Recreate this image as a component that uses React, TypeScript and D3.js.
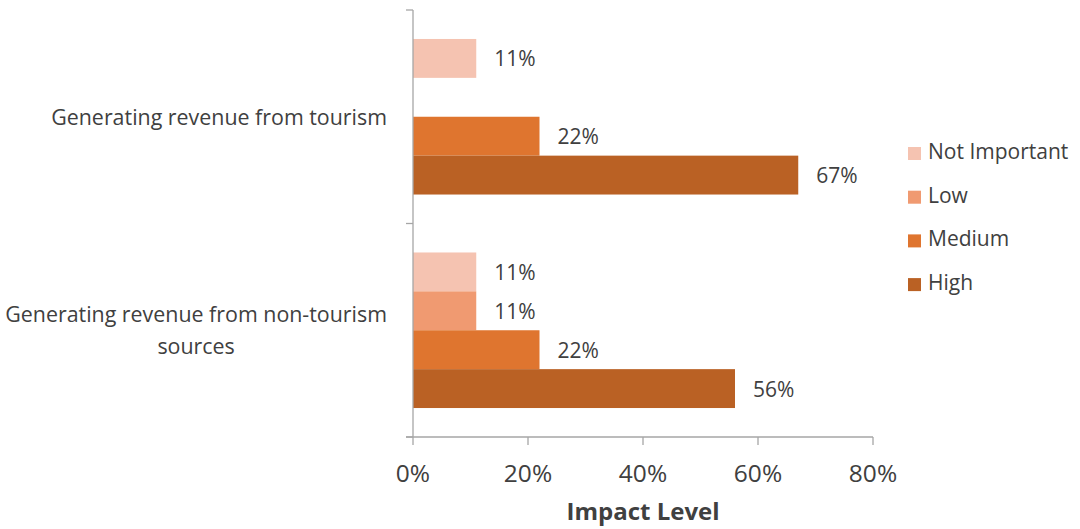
import React, { useEffect, useRef } from "react";
import * as d3 from "d3";

const categories = ["tourism", "nonTourism"];
const categoryLines = [
  ["Generating revenue from tourism"],
  ["Generating revenue from non-tourism", "sources"],
];
const seriesNames = ["Not Important", "Low", "Medium", "High"];
const notImportant = [11, 11];
const low: (number | null)[] = [null, 11];
const medium = [22, 22];
const high = [67, 56];
const xTicks = [0, 20, 40, 60, 80];
const colors = ["#F5C3B1", "#F09A71", "#DF752F", "#BA6124"];
const xTitle = "Impact Level";

const W = 1080;
const H = 529;
const FONT = "'Open Sans', 'Noto Sans', sans-serif";
const TEXT = "#404040";
const AXIS = "#A6A6A6";

export default function App() {
  const ref = useRef<SVGSVGElement>(null);
  useEffect(() => {
    const svg = d3.select(ref.current);
    svg.selectAll("*").remove();
    const values = [notImportant, low, medium, high];

    const x = d3.scaleLinear().domain([0, 80]).range([413, 873]);
    const y = d3.scaleBand<string>().domain(categories).range([10, 437]);
    const sub = d3
      .scaleBand<string>()
      .domain(seriesNames)
      .range([0, y.bandwidth()])
      .paddingInner(0)
      .paddingOuter(0.745);

    // bars
    categories.forEach((c, ci) => {
      seriesNames.forEach((s, si) => {
        const v = values[si][ci];
        if (v == null) return;
        const y0 = (y(c) as number) + (sub(s) as number);
        svg
          .append("rect")
          .attr("x", x(0))
          .attr("y", y0)
          .attr("width", x(v) - x(0))
          .attr("height", sub.bandwidth())
          .attr("fill", colors[si]);
        svg
          .append("text")
          .attr("x", x(v) + 18)
          .attr("y", y0 + sub.bandwidth() / 2 + 8)
          .attr("font-family", FONT)
          .attr("font-size", 21)
          .attr("fill", TEXT)
          .text(`${v}%`);
      });
    });

    // y axis
    svg
      .append("line")
      .attr("x1", x(0))
      .attr("x2", x(0))
      .attr("y1", 10)
      .attr("y2", 437)
      .attr("stroke", AXIS)
      .attr("stroke-width", 1.3);
    const yEdges = [10, ...categories.map((c) => (y(c) as number) + y.bandwidth())];
    yEdges.forEach((e) => {
      svg
        .append("line")
        .attr("x1", x(0) - 7)
        .attr("x2", x(0))
        .attr("y1", e)
        .attr("y2", e)
        .attr("stroke", AXIS)
        .attr("stroke-width", 1.3);
    });

    // x axis
    svg
      .append("line")
      .attr("x1", x(0) - 7)
      .attr("x2", x(80))
      .attr("y1", 437)
      .attr("y2", 437)
      .attr("stroke", AXIS)
      .attr("stroke-width", 1.3);
    xTicks.forEach((t) => {
      svg
        .append("line")
        .attr("x1", x(t))
        .attr("x2", x(t))
        .attr("y1", 437)
        .attr("y2", 445)
        .attr("stroke", AXIS)
        .attr("stroke-width", 1.3);
      svg
        .append("text")
        .attr("x", x(t))
        .attr("y", 482)
        .attr("text-anchor", "middle")
        .attr("font-family", FONT)
        .attr("font-size", 24.5)
        .attr("fill", TEXT)
        .text(`${t}%`);
    });

    svg
      .append("text")
      .attr("x", (x(0) + x(80)) / 2)
      .attr("y", 520)
      .attr("text-anchor", "middle")
      .attr("font-family", FONT)
      .attr("font-size", 24)
      .attr("font-weight", 700)
      .attr("fill", TEXT)
      .text(xTitle);

    // category labels
    const rightEdge = 387;
    const lineH = 32;
    categories.forEach((c, ci) => {
      const lines = categoryLines[ci];
      const g = svg.append("g");
      const texts = lines.map((l, li) =>
        g
          .append("text")
          .attr("y", (y(c) as number) + y.bandwidth() / 2 + 8 + (li - (lines.length - 1) / 2) * lineH)
          .attr("text-anchor", "middle")
          .attr("font-family", FONT)
          .attr("font-size", 21.4)
          .attr("fill", TEXT)
          .text(l)
      );
      const maxW = d3.max(texts, (t) => (t.node() as SVGTextElement).getComputedTextLength()) || 0;
      const cx = rightEdge - maxW / 2;
      texts.forEach((t) => t.attr("x", cx));
    });

    // legend
    seriesNames.forEach((s, si) => {
      const base = 159 + si * 43.7;
      svg
        .append("rect")
        .attr("x", 908)
        .attr("y", base - 12)
        .attr("width", 13)
        .attr("height", 13)
        .attr("fill", colors[si]);
      svg
        .append("text")
        .attr("x", 928)
        .attr("y", base)
        .attr("font-family", FONT)
        .attr("font-size", 21)
        .attr("fill", TEXT)
        .text(s);
    });
  }, []);
  return (
    <svg
      ref={ref}
      width={W}
      height={H}
      style={{ position: "absolute", left: 0, top: 0, background: "#fff" }}
    />
  );
}
